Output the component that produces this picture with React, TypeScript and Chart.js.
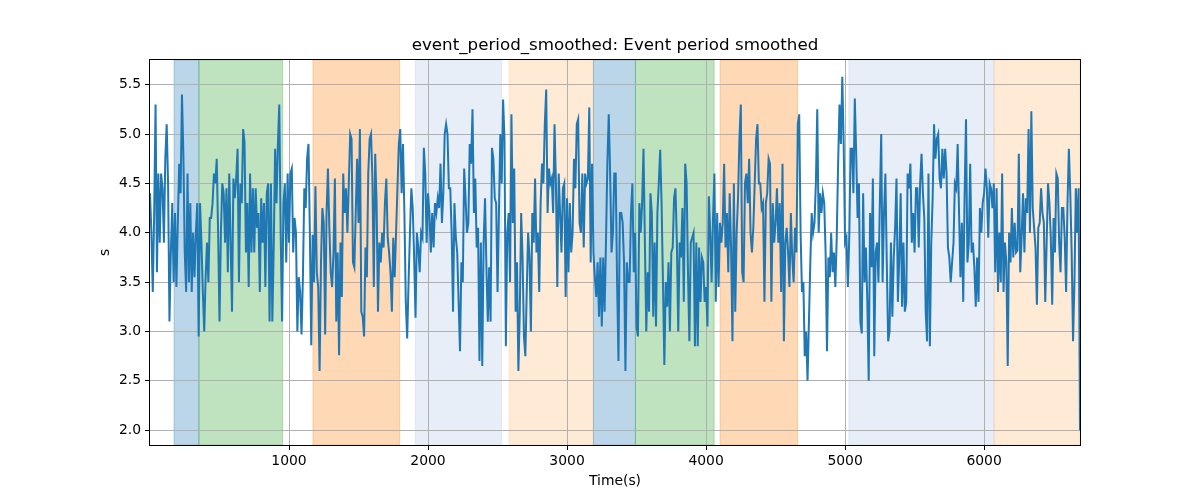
import { useEffect, useRef } from "react";
import { Chart, registerables } from "chart.js";

Chart.register(...registerables);

const TITLE = "event_period_smoothed: Event period smoothed";
const X_LABEL = "Time(s)";
const Y_LABEL = "s";

const TIME_STEP = 10; // seconds between samples
const X_MIN = 0;
const X_MAX = 6690;
const Y_MIN = 1.85;
const Y_MAX = 5.75;

const xTicks = [1000, 2000, 3000, 4000, 5000, 6000];
const yTicks = [2.0, 2.5, 3.0, 3.5, 4.0, 4.5, 5.0, 5.5];

const values = [
  4.4, 4.0, 3.4, 4.2, 5.3, 3.6, 4.6, 3.9, 4.6, 4.45, 3.9, 4.75, 5.1, 4.5, 3.1, 3.8, 4.3, 3.5, 4.2, 3.45,
  4.1, 4.7, 4.4, 5.4, 4.8, 3.8, 3.4, 4.6, 3.5, 4.3, 3.4, 4.0, 3.55, 4.0, 4.3, 2.95, 4.3, 3.9, 3.4, 3.0,
  3.55, 3.9, 3.5, 4.15, 4.15, 4.3, 4.6, 4.5, 4.75, 4.0, 3.1, 4.0, 4.5, 4.4, 3.9,
  4.45, 3.6, 4.6, 3.9, 3.2, 4.55, 4.35, 4.55, 4.85, 3.5, 4.5, 4.3, 5.05, 4.92, 3.8, 4.3, 3.45, 4.6, 3.8, 4.45,
  3.8, 4.45, 4.05, 4.2, 3.4, 4.35, 3.9, 4.3, 3.45, 4.4, 4.5, 3.1, 4.5, 3.1, 3.85, 4.85, 4.3, 4.9, 5.3, 4.0,
  3.1, 4.3, 4.5, 3.7, 4.6, 3.9, 4.6, 4.65, 3.8, 4.15, 4.0, 3.0, 3.55, 3.4, 2.97, 3.55,
  4.45, 4.25, 4.75, 4.9, 4.0, 2.86, 3.98, 3.5, 4.47, 3.6, 3.45, 2.6, 3.7, 4.25, 4.1, 2.97, 4.2, 4.65, 4.05, 3.6,
  3.45, 3.8, 4.55, 3.1, 3.8, 2.76, 3.9, 3.35, 4.6, 4.2, 4.45, 4.0, 4.5, 5.0, 4.95, 3.7, 3.65, 4.2, 4.75, 4.1,
  5.05, 3.2, 3.15, 2.95, 3.85, 3.55, 4.6, 4.95, 5.0, 4.55, 3.45, 4.8, 4.3, 3.2, 3.9, 3.7,
  4.0, 3.85, 4.3, 4.55, 3.95, 3.8, 3.6, 3.2, 3.95, 3.55, 4.0, 4.45, 4.9, 5.05, 4.4, 4.9, 4.2, 3.3, 2.93, 3.5,
  4.0, 4.45, 4.25, 3.75, 3.14, 4.0, 3.85, 3.6, 4.0, 3.95, 4.86, 4.6, 3.9, 4.4, 4.2, 3.8, 4.2, 3.85, 4.3, 4.2,
  4.35, 4.25, 4.7, 4.1, 4.4, 5.0, 5.1, 5.0, 4.45, 4.45, 4.0, 3.2, 4.3, 3.95, 3.8, 3.3,
  2.8, 3.7, 3.5, 4.65, 4.35, 4.0, 4.1, 4.9, 4.7, 5.25, 4.2, 4.55, 3.85, 4.05, 2.7, 3.9, 2.65, 3.9, 4.35, 3.65,
  3.1, 3.65, 3.1, 4.86, 4.75, 4.35, 4.3, 3.4, 4.2, 5.0, 4.5, 5.35, 4.95, 2.85, 4.0, 4.2, 3.5, 5.2, 4.1, 4.65,
  3.2, 3.7, 2.6, 3.2, 4.2, 3.75, 2.95, 2.75, 3.4, 4.0, 3.75, 3.0, 4.2, 3.9, 4.55, 3.8,
  4.0, 3.4, 4.3, 4.7, 4.5, 5.1, 5.45, 4.2, 4.65, 4.5, 4.55, 4.2, 5.1, 4.5, 3.45, 4.6, 4.2, 3.8, 4.45, 4.5,
  3.35, 4.35, 3.6, 4.3, 3.8, 4.0, 4.75, 4.45, 5.1, 5.15, 4.1, 4.0, 4.6, 3.85, 4.6, 4.5, 4.55, 5.27, 3.7, 4.7,
  3.8, 3.55, 3.35, 3.7, 3.15, 3.75, 3.05, 3.75, 3.2, 3.9, 4.7, 5.2, 4.6, 3.8, 4.0, 4.6,
  4.6, 3.5, 2.7, 4.2, 4.2, 4.1, 3.7, 2.6, 3.7, 3.5, 3.5, 4.2, 4.5, 3.6, 4.0, 3.05, 2.95, 4.3, 4.0, 4.3,
  4.85, 3.9, 3.0, 3.6, 3.2, 4.4, 4.2, 3.15, 3.9, 3.05, 4.2, 4.5, 4.84, 4.3, 3.5, 2.66, 3.5, 3.25, 3.7, 3.0,
  3.8, 3.85, 4.35, 4.45, 3.9, 3.0, 3.9, 3.75, 4.25, 3.3, 4.7, 4.5, 3.6, 2.9, 3.9, 3.95,
  4.0, 2.85, 3.9, 2.85, 3.85, 3.3, 3.75, 3.7, 3.3, 3.45, 3.05, 4.37, 4.0, 3.5, 4.15, 4.6, 3.3, 4.2, 3.45, 4.1,
  3.9, 4.1, 4.7, 3.85, 4.2, 3.6, 4.4, 3.85, 2.9, 4.5, 3.2, 4.0, 4.35, 4.95, 5.3, 3.6, 3.5, 4.5, 4.6, 4.3,
  4.75, 4.0, 3.8, 4.05, 4.5, 4.95, 5.1, 4.5, 4.5, 4.25, 4.3, 3.3, 4.3, 4.4, 4.75, 4.7,
  3.3, 4.3, 3.9, 4.1, 4.45, 3.9, 4.3, 3.4, 4.7, 2.9, 3.9, 4.05, 3.8, 3.45, 4.2, 3.75, 3.5, 4.05, 3.8, 5.1,
  5.2, 4.0, 3.4, 3.5, 2.75, 3.0, 2.5, 3.1, 3.7, 4.2, 4.0, 4.1, 4.5, 5.25, 4.0, 4.4, 4.2, 4.4, 4.3, 3.8,
  2.8, 3.75, 3.55, 4.0, 3.6, 3.8, 3.45, 3.95, 4.7, 5.3, 4.9, 5.58, 4.9, 3.9, 3.95, 3.45,
  3.95, 4.85, 4.85, 4.4, 5.36, 4.8, 4.15, 4.5, 3.1, 2.98, 4.4, 3.5, 3.85, 3.3, 2.5, 4.2, 3.65, 4.55, 2.75, 3.8,
  3.9, 3.5, 4.3, 5.0, 3.5, 4.2, 4.6, 3.7, 2.9, 3.0, 3.9, 3.15, 3.75, 4.05, 4.55, 3.3, 3.75, 4.4, 3.25, 3.9,
  3.2, 3.3, 4.6, 4.45, 4.7, 3.9, 4.2, 3.8, 4.45, 4.45, 3.85, 4.5, 4.8, 4.4, 4.15, 3.2,
  2.9, 4.6, 2.85, 3.9, 4.35, 5.1, 4.75, 4.95, 5.0, 4.55, 4.45, 4.85, 4.55, 4.85, 4.6, 3.85, 3.75, 3.5, 3.7, 3.9,
  4.5, 4.45, 4.9, 4.2, 3.55, 4.1, 3.3, 4.4, 5.15, 3.7, 3.9, 4.7, 3.8, 3.9, 3.65, 3.25, 3.75, 3.3, 4.25, 4.0,
  4.3, 4.4, 4.65, 4.45, 3.95, 4.5, 4.45, 4.25, 4.5, 3.6, 4.45, 3.4, 4.0, 3.5, 4.6, 3.4,
  3.9, 3.7, 2.65, 4.0, 3.7, 4.25, 3.75, 4.1, 3.8, 3.82, 4.8, 3.6, 3.95, 4.4, 3.8, 4.35, 4.2, 5.05, 4.0, 5.23,
  4.25, 4.05, 3.85, 3.27, 4.05, 4.1, 4.45, 4.2, 4.1, 3.3, 3.9, 4.5, 4.3, 3.95, 3.27, 4.15, 3.8, 4.6, 4.55, 3.9,
  3.6, 4.25, 4.25, 3.95, 3.4, 4.3, 4.85, 4.4, 3.8, 2.9, 3.5, 4.45, 4.0, 4.45, 2.0,
];

const times = values.map((_, i) => i * TIME_STEP);

// shaded periods (time bounds) and their kind
const spanStarts = [173, 352, 1172, 1909, 2583, 3190, 3492, 4101, 5027, 6072];
const spanEnds = [352, 954, 1796, 2530, 3190, 3492, 4058, 4659, 6072, 6690];
const spanKinds = [0, 1, 2, 3, 4, 0, 1, 2, 3, 4];
const spanColors = [
  "rgba(31,119,180,0.3)",
  "rgba(44,160,44,0.3)",
  "rgba(255,127,14,0.3)",
  "rgba(174,199,232,0.3)",
  "rgba(255,187,120,0.3)",
];

const FONT = "'DejaVu Sans', 'Liberation Sans', sans-serif";

const spanPlugin = {
  id: "spans",
  beforeDraw(chart: any) {
    const { ctx, chartArea, scales } = chart;
    ctx.save();
    ctx.fillStyle = "#ffffff";
    ctx.fillRect(0, 0, chart.width, chart.height);
    ctx.beginPath();
    ctx.rect(chartArea.left, chartArea.top, chartArea.right - chartArea.left, chartArea.bottom - chartArea.top);
    ctx.clip();
    const xs = scales.x;
    for (let i = 0; i < spanStarts.length; i++) {
      const a = xs.getPixelForValue(spanStarts[i]);
      const b = xs.getPixelForValue(spanEnds[i]);
      const c = spanColors[spanKinds[i]];
      ctx.fillStyle = c;
      ctx.fillRect(a, chartArea.top, b - a, chartArea.bottom - chartArea.top);
      ctx.strokeStyle = c;
      ctx.lineWidth = 1;
      ctx.strokeRect(a, chartArea.top, b - a, chartArea.bottom - chartArea.top);
    }
    ctx.restore();
  },
};

const framePlugin = {
  id: "frame",
  afterDraw(chart: any) {
    const { ctx, chartArea } = chart;
    ctx.save();
    ctx.strokeStyle = "#000000";
    ctx.lineWidth = 1;
    const l = Math.round(chartArea.left) - 0.5;
    const t = Math.round(chartArea.top) - 0.5;
    const r = Math.round(chartArea.right) + 0.5;
    const b = Math.round(chartArea.bottom) + 0.5;
    ctx.strokeRect(l, t, r - l, b - t);
    ctx.fillStyle = "#000000";
    ctx.textAlign = "center";
    ctx.textBaseline = "middle";
    const cx = (chartArea.left + chartArea.right) / 2;
    ctx.font = `16.7px ${FONT}`;
    ctx.fillText(TITLE, cx, 46);
    ctx.font = `13.9px ${FONT}`;
    ctx.fillText(X_LABEL, cx, 481);
    ctx.translate(105, (chartArea.top + chartArea.bottom) / 2);
    ctx.rotate(-Math.PI / 2);
    ctx.fillText(Y_LABEL, 0, 0);
    ctx.restore();
  },
};

export default function App() {
  const ref = useRef<HTMLCanvasElement>(null);
  useEffect(() => {
    const canvas = ref.current;
    if (!canvas) return;
    const chart = new Chart(canvas, {
      type: "line",
      data: {
        datasets: [
          {
            data: times.map((t, i) => ({ x: t, y: values[i] })),
            borderColor: "#1f77b4",
            borderWidth: 2,
            pointRadius: 0,
            tension: 0,
            fill: false,
          },
        ],
      },
      options: {
        responsive: false,
        animation: false,
        devicePixelRatio: 1,
        layout: { padding: { left: 0, right: 120, top: 60, bottom: 0 } },
        plugins: {
          legend: { display: false },
          title: { display: false },
          tooltip: { enabled: false },
        },
        scales: {
          x: {
            type: "linear",
            min: X_MIN,
            max: X_MAX,
            afterBuildTicks: (s: any) => {
              s.ticks = xTicks.map((v) => ({ value: v }));
            },
            afterFit: (s: any) => {
              s.height = 55;
            },
            grid: { color: "#b0b0b0", lineWidth: 1, tickLength: 5, tickColor: "#000000", drawTicks: true },
            border: { display: false },
            ticks: {
              color: "#000000",
              font: { family: FONT, size: 13.9 },
              padding: 3,
              maxRotation: 0,
              autoSkip: false,
              callback: (v: any) => String(v),
            },
          },
          y: {
            type: "linear",
            min: Y_MIN,
            max: Y_MAX,
            afterBuildTicks: (s: any) => {
              s.ticks = yTicks.map((v) => ({ value: v }));
            },
            afterFit: (s: any) => {
              s.width = 150;
            },
            grid: { color: "#b0b0b0", lineWidth: 1, tickLength: 5, tickColor: "#000000", drawTicks: true },
            border: { display: false },
            ticks: {
              color: "#000000",
              font: { family: FONT, size: 13.9 },
              padding: 4,
              autoSkip: false,
              callback: (v: any) => Number(v).toFixed(1),
            },
          },
        },
      },
      plugins: [spanPlugin, framePlugin],
    });
    return () => chart.destroy();
  }, []);
  return (
    <canvas
      ref={ref}
      width={1200}
      height={500}
      style={{ position: "fixed", left: 0, top: 0, width: 1200, height: 500, display: "block" }}
    />
  );
}
